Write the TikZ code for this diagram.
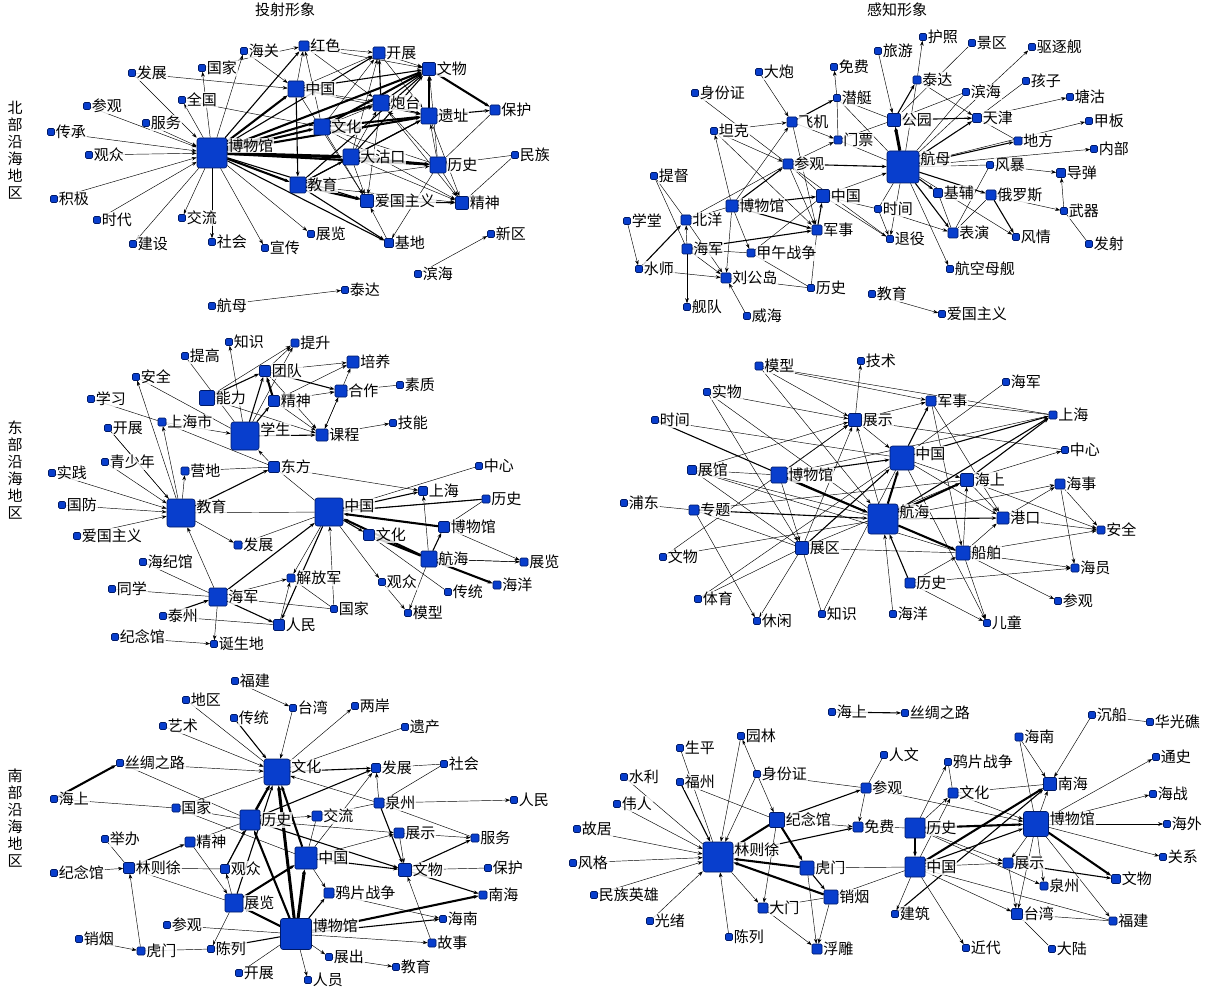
\documentclass[tikz,border=0pt]{standalone}
\usepackage{fontspec}
\newfontfamily\cjk{Noto Sans CJK SC}
\usetikzlibrary{arrows.meta}
\definecolor{sqf}{RGB}{8,62,205}
\definecolor{sqb}{RGB}{0,25,100}
\newcommand\lf{\cjk\fontsize{15}{16}\selectfont}
\pgfdeclarelayer{bg}
\pgfsetlayers{bg,main}
\tikzset{
 sq/.style={draw=sqb,fill=sqf,rounded corners=1.2pt,inner sep=0pt,line width=0.6pt},
 lbl/.style={font=\lf,inner sep=0.8pt,text=black,fill=white,fill opacity=0.8,text opacity=1},
 ln/.style={line width=0.45pt,draw=black},
 aw/.style={ln,-{Stealth[length=5pt,width=3.6pt]}},
 am/.style={aw,line width=1.1pt},
 ak/.style={aw,line width=2.1pt},
 side/.style={font=\cjk\fontsize{15}{17}\selectfont,align=center,inner sep=0pt},
 ttl/.style={font=\cjk\fontsize{15}{16}\selectfont,inner sep=0pt}
}
\newcommand\sqn[5]{\node[sq,minimum size=#4pt,label={[lbl]east:#5}] (#1) at (#2,#3) {};}
\newcommand\bgn[5]{\node[sq,rounded corners=2.5pt,minimum size=#4pt,label={[lbl,anchor=north west]north east:#5}] (#1) at (#2,#3) {};}
\begin{document}
\begin{tikzpicture}[x=1pt,y=-1pt]
\useasboundingbox (0,0) rectangle (1218,1000);
\node[ttl] (t1) at (285,10) {投射形象};
\node[ttl] (t2) at (897,10) {感知形象};
\node[side] (s1) at (15,150) {北\\部\\沿\\海\\地\\区};
\node[side] (s2) at (15,470) {东\\部\\沿\\海\\地\\区};
\node[side] (s3) at (15,818) {南\\部\\沿\\海\\地\\区};
% ---------- Panel A ----------
\bgn{a0}{212}{153}{30}{博物馆}
\sqn{aHG}{244}{51}{7}{海关}
\sqn{aGJ}{202}{68}{7}{国家}
\sqn{aFZ}{132}{73}{7}{发展}
\sqn{aQG}{182}{100}{7}{全国}
\sqn{aCG}{87}{106}{7}{参观}
\sqn{aFW}{146}{123}{7}{服务}
\sqn{aCC}{51}{132}{7}{传承}
\sqn{aGZ}{89}{155}{7}{观众}
\sqn{aJJ}{54}{199}{7}{积极}
\sqn{aSD}{97}{220}{7}{时代}
\sqn{aJL}{182}{218}{7}{交流}
\sqn{aJS}{133}{244}{7}{建设}
\sqn{aSH}{212}{242}{7}{社会}
\sqn{aXC}{265}{248}{7}{宣传}
\sqn{aZL}{311}{234}{7}{展览}
\sqn{aHM}{212}{306}{7}{航母}
\sqn{aTD}{345}{290}{7}{泰达}
\sqn{aBH}{418}{274}{7}{滨海}
\sqn{aXQ}{491}{234}{7}{新区}
\sqn{aHS}{304}{46}{10}{红色}
\sqn{aKZ}{379}{53}{12}{开展}
\sqn{aWW}{429}{69}{13}{文物}
\sqn{aZG}{296}{89}{16}{中国}
\sqn{aPT}{381}{103}{16}{炮台}
\sqn{aYZ}{429}{116}{16}{遗址}
\sqn{aBHu}{495}{110}{10}{保护}
\sqn{aWH}{322}{127}{16}{文化}
\sqn{aDGK}{351}{157}{16}{大沽口}
\sqn{aLS}{438}{165}{16}{历史}
\sqn{aMZ}{515}{155}{7}{民族}
\sqn{aJY}{298}{185}{16}{教育}
\sqn{aAG}{367}{201}{13}{爱国主义}
\sqn{aJSh}{462}{203}{13}{精神}
\sqn{aJD}{389}{243}{9}{基地}
% ---------- Panel B ----------
\bgn{b0}{903}{167}{32}{航母}
\sqn{bLY}{878}{51}{7}{旅游}
\sqn{bHZ}{923}{37}{7}{护照}
\sqn{bJQ}{972}{43}{7}{景区}
\sqn{bQZJ}{1032}{47}{7}{驱逐舰}
\sqn{bMF}{834}{67}{7}{免费}
\sqn{bDP}{759}{72}{7}{大炮}
\sqn{bTD}{917}{80}{8}{泰达}
\sqn{bHZi}{1026}{81}{7}{孩子}
\sqn{bSFZ}{695}{93}{7}{身份证}
\sqn{bQT}{837}{98}{7}{潜艇}
\sqn{bBH}{966}{92}{7}{滨海}
\sqn{bTG}{1070}{97}{7}{塘沽}
\sqn{bGY}{894}{120}{13}{公园}
\sqn{bTJ}{977}{118}{9}{天津}
\sqn{bJB}{1089}{121}{7}{甲板}
\sqn{bFJ}{792}{122}{10}{飞机}
\sqn{bTK}{714}{131}{7}{坦克}
\sqn{bMP}{838}{140}{8}{门票}
\sqn{bDF}{1018}{141}{8}{地方}
\sqn{bNB}{1094}{149}{7}{内部}
\sqn{bCG}{788}{164}{10}{参观}
\sqn{bFB}{990}{165}{7}{风暴}
\sqn{bDD}{1061}{173}{9}{导弹}
\sqn{bTDu}{654}{176}{7}{提督}
\sqn{bJF}{938}{193}{9}{基辅}
\sqn{bELS}{991}{195}{10}{俄罗斯}
\sqn{bZG}{823}{196}{13}{中国}
\sqn{bBWG}{732}{206}{12}{博物馆}
\sqn{bSJ}{878}{209}{7}{时间}
\sqn{bWQ}{1064}{211}{7}{武器}
\sqn{bXT}{627}{221}{7}{学堂}
\sqn{bBY}{686}{220}{10}{北洋}
\sqn{bJS}{817}{230}{10}{军事}
\sqn{bBY2}{953}{233}{10}{表演}
\sqn{bFQ}{1016}{237}{7}{风情}
\sqn{bTY}{890}{239}{7}{退役}
\sqn{bFS}{1089}{244}{7}{发射}
\sqn{bHJ}{687}{249}{10}{海军}
\sqn{bJW}{751}{253}{8}{甲午战争}
\sqn{bSS}{639}{269}{7}{水师}
\sqn{bHKMJ}{950}{269}{7}{航空母舰}
\sqn{bLGD}{726}{278}{10}{刘公岛}
\sqn{bLS}{811}{288}{7}{历史}
\sqn{bJY}{872}{294}{7}{教育}
\sqn{bAG}{942}{314}{7}{爱国主义}
\sqn{bJD}{687}{307}{7}{舰队}
\sqn{bWH}{747}{316}{7}{威海}
% ---------- Panel C ----------
\bgn{c0}{245}{436}{28}{学生}
\bgn{c1}{181}{513}{28}{教育}
\bgn{c2}{329}{512}{28}{中国}
\sqn{cZS}{229}{342}{7}{知识}
\sqn{cTS}{295}{343}{8}{提升}
\sqn{cTG}{185}{356}{7}{提高}
\sqn{cPY}{353}{362}{12}{培养}
\sqn{cTD}{265}{371}{11}{团队}
\sqn{cAQ}{136}{377}{7}{安全}
\sqn{cSZ}{400}{385}{7}{素质}
\sqn{cHZ}{341}{391}{12}{合作}
\sqn{cNL}{207}{398}{15}{能力}
\sqn{cJS}{274}{401}{11}{精神}
\sqn{cXX}{91}{399}{7}{学习}
\sqn{cSHS}{162}{422}{8}{上海市}
\sqn{cJN}{393}{423}{7}{技能}
\sqn{cKZ}{108}{428}{7}{开展}
\sqn{cKC}{322}{435}{12}{课程}
\sqn{cQSN}{105}{462}{7}{青少年}
\sqn{cZX}{479}{466}{7}{中心}
\sqn{cDF}{274}{467}{11}{东方}
\sqn{cYD}{185}{471}{8}{营地}
\sqn{cSJ}{52}{473}{7}{实践}
\sqn{cSH}{423}{491}{9}{上海}
\sqn{cLS}{486}{499}{8}{历史}
\sqn{cGF}{62}{505}{7}{国防}
\sqn{cBWG}{444}{527}{11}{博物馆}
\sqn{cWH}{369}{535}{11}{文化}
\sqn{cAG}{77}{536}{7}{爱国主义}
\sqn{cFZ}{238}{545}{8}{发展}
\sqn{cHH}{429}{559}{16}{航海}
\sqn{cZL}{524}{562}{8}{展览}
\sqn{cHJG}{143}{562}{7}{海纪馆}
\sqn{cJFJ}{291}{578}{8}{解放军}
\sqn{cGZ}{382}{582}{7}{观众}
\sqn{cHY}{497}{585}{8}{海洋}
\sqn{cTX}{112}{589}{7}{同学}
\sqn{cTX2}{448}{592}{7}{传统}
\sqn{cHJ}{218}{597}{18}{海军}
\sqn{cGJ}{334}{609}{7}{国家}
\sqn{cMX}{408}{613}{7}{模型}
\sqn{cTZ}{163}{616}{7}{泰州}
\sqn{cRM}{279}{625}{11}{人民}
\sqn{cJNG}{115}{637}{7}{纪念馆}
\sqn{cDSD}{214}{644}{7}{诞生地}
% ---------- Panel D ----------
\bgn{d0}{883}{519}{30}{航海}
\bgn{dZG}{902}{458}{24}{中国}
\sqn{dMX}{759}{366}{8}{模型}
\sqn{dJS}{861}{361}{7}{技术}
\sqn{dHJ}{1006}{382}{7}{海军}
\sqn{dSW}{707}{392}{7}{实物}
\sqn{dJSh}{931}{401}{10}{军事}
\sqn{dSH}{1053}{415}{8}{上海}
\sqn{dZS}{855}{420}{13}{展示}
\sqn{dSJ}{655}{420}{7}{时间}
\sqn{dZX}{1065}{450}{7}{中心}
\sqn{dZG2}{692}{470}{9}{展馆}
\sqn{dBWG}{779}{475}{16}{博物馆}
\sqn{dHS}{967}{480}{13}{海上}
\sqn{dHSh}{1060}{484}{10}{海事}
\sqn{dPD}{624}{503}{7}{浦东}
\sqn{dZT}{694}{510}{10}{专题}
\sqn{dGK}{1003}{518}{12}{港口}
\sqn{dAQ}{1101}{530}{8}{安全}
\sqn{dZQ}{802}{548}{13}{展区}
\sqn{dCB}{963}{553}{14}{船舶}
\sqn{dWW}{663}{557}{7}{文物}
\sqn{dHY}{1075}{568}{8}{海员}
\sqn{dLS}{910}{583}{10}{历史}
\sqn{dTY}{698}{599}{7}{体育}
\sqn{dCG}{1058}{601}{7}{参观}
\sqn{dZS2}{822}{614}{7}{知识}
\sqn{dHYa}{893}{614}{7}{海洋}
\sqn{dXX}{757}{621}{7}{休闲}
\sqn{dET}{987}{623}{7}{儿童}
% ---------- Panel E ----------
\bgn{e0}{296}{934}{31}{博物馆}
\bgn{eWH}{277}{772}{26}{文化}
\sqn{eLS}{250}{820}{20}{历史}
\sqn{eZG}{306}{858}{22}{中国}
\sqn{eFJ}{235}{681}{7}{福建}
\sqn{eTW}{293}{708}{7}{台湾}
\sqn{eDQ}{186}{700}{7}{地区}
\sqn{eLA}{355}{706}{7}{两岸}
\sqn{eCT}{234}{718}{7}{传统}
\sqn{eYC}{405}{727}{7}{遗产}
\sqn{eYS}{163}{726}{7}{艺术}
\sqn{eSC}{120}{763}{7}{丝绸之路}
\sqn{eSH}{444}{764}{7}{社会}
\sqn{eFZ}{376}{768}{9}{发展}
\sqn{eHS}{54}{799}{7}{海上}
\sqn{eRM}{514}{800}{7}{人民}
\sqn{eQZ}{379}{803}{10}{泉州}
\sqn{eGJ}{176}{808}{8}{国家}
\sqn{eJL}{317}{816}{10}{交流}
\sqn{eZS}{399}{833}{10}{展示}
\sqn{eFW}{475}{838}{8}{服务}
\sqn{eJB}{105}{839}{7}{举办}
\sqn{eJS}{190}{842}{10}{精神}
\sqn{eLZX}{129}{868}{11}{林则徐}
\sqn{eBH}{488}{868}{7}{保护}
\sqn{eGZ}{225}{869}{9}{观众}
\sqn{eWW}{405}{870}{13}{文物}
\sqn{eJNG}{54}{873}{7}{纪念馆}
\sqn{eYP}{329}{893}{10}{鸦片战争}
\sqn{eNH}{483}{895}{8}{南海}
\sqn{eZL}{234}{903}{18}{展览}
\sqn{eHN}{443}{919}{7}{海南}
\sqn{eCG}{167}{925}{7}{参观}
\sqn{eXY}{79}{939}{7}{销烟}
\sqn{eGS}{432}{943}{8}{故事}
\sqn{eCL}{211}{949}{7}{陈列}
\sqn{eHM}{141}{951}{8}{虎门}
\sqn{eZC}{329}{957}{7}{展出}
\sqn{eJY}{396}{967}{7}{教育}
\sqn{eKZ}{239}{973}{7}{开展}
\sqn{eRY}{308}{980}{7}{人员}
% ---------- Panel F ----------
\bgn{f0}{718}{857}{30}{林则徐}
\bgn{fBWG}{1036}{824}{25}{博物馆}
\sqn{fLS}{915}{828}{20}{历史}
\sqn{fZG}{915}{867}{20}{中国}
\sqn{fHS}{832}{712}{7}{海上}
\sqn{fSC}{905}{713}{7}{丝绸之路}
\sqn{fCC}{1092}{715}{7}{沉船}
\sqn{fHGJ}{1150}{722}{7}{华光礁}
\sqn{fYL}{741}{736}{7}{园林}
\sqn{fHN}{1019}{737}{8}{海南}
\sqn{fSP}{680}{748}{7}{生平}
\sqn{fRW}{884}{755}{7}{人文}
\sqn{fTS}{1156}{757}{7}{通史}
\sqn{fYP}{948}{762}{7}{鸦片战争}
\sqn{fSFZ}{757}{774}{7}{身份证}
\sqn{fSL}{624}{777}{7}{水利}
\sqn{fFZ}{680}{782}{7}{福州}
\sqn{fNH}{1050}{784}{13}{南海}
\sqn{fCG}{866}{788}{10}{参观}
\sqn{fWH}{953}{793}{10}{文化}
\sqn{fHZ}{1153}{794}{7}{海战}
\sqn{fWR}{617}{804}{7}{伟人}
\sqn{fJNG}{777}{820}{15}{纪念馆}
\sqn{fHW}{1167}{824}{7}{海外}
\sqn{fMF}{858}{827}{10}{免费}
\sqn{fGJ}{577}{829}{7}{故居}
\sqn{fGX}{1163}{857}{7}{关系}
\sqn{fFG}{573}{863}{7}{风格}
\sqn{fZS}{1008}{863}{10}{展示}
\sqn{fHM}{807}{868}{14}{虎门}
\sqn{fWW}{1116}{879}{9}{文物}
\sqn{fQZ}{1044}{886}{8}{泉州}
\sqn{fMZYX}{594}{895}{7}{民族英雄}
\sqn{fXY}{831}{897}{14}{销烟}
\sqn{fDM}{763}{908}{10}{大门}
\sqn{fJZ}{895}{914}{7}{建筑}
\sqn{fTW}{1017}{914}{11}{台湾}
\sqn{fGXu}{650}{921}{7}{光绪}
\sqn{fFJ}{1113}{921}{8}{福建}
\sqn{fCL}{729}{937}{7}{陈列}
\sqn{fJD}{966}{948}{7}{近代}
\sqn{fDL}{1052}{949}{7}{大陆}
\sqn{fFD}{817}{949}{10}{浮雕}
% ================= EDGES =================
\begin{pgfonlayer}{bg}
% Panel A
\foreach \p/\q in {a0/aHG,a0/aGJ,aFZ/a0,a0/aQG,aCG/a0,aFW/a0,aCC/a0,aGZ/a0,aJJ/a0,aSD/a0,a0/aJS,a0/aJL,a0/aSH,a0/aXC,a0/aZL,aHM/aTD,aBH/aXQ,aHG/aZG,aFZ/aZG,aQG/aWH,aGJ/aHS,
 aZG/aHS,aZG/aKZ,aZG/aPT,aZG/aYZ,aHS/aKZ,aHS/aWW,aHS/aPT,aKZ/aWW,aKZ/aYZ,aWH/aKZ,aWH/aPT,aWH/aHS,aDGK/aKZ,aDGK/aPT,aDGK/aAG,aDGK/aJSh,aLS/aYZ,aLS/aWW,aLS/aJSh,aLS/aPT,aLS/aWH,aJY/aJSh,aJY/aLS,aJD/aAG,aLS/aJD,aYZ/aJSh,aPT/aJSh,aWH/aJSh,aZG/aAG,aWH/aAG,aPT/aAG}
 \draw[aw] (\p) -- (\q);
\foreach \p/\q in {aLS/aMZ,aMZ/aJSh,aLS/aBHu} \draw[ln] (\p) -- (\q);
\foreach \p/\q in {a0/aHS,a0/aKZ,a0/aAG,a0/aJD,aZG/aWW,aPT/aKZ,aPT/aWW,aYZ/aWW,aDGK/aWW,aDGK/aYZ,aJY/aYZ,aJY/aWW,aJY/aJD,aAG/aJSh,aYZ/aBHu,aPT/aYZ,aZG/aJY,aJY/aDGK}
 \draw[am] (\p) -- (\q);
\foreach \p/\q in {a0/aZG,a0/aWW,a0/aPT,a0/aYZ,a0/aWH,a0/aLS,a0/aJY,aWH/aWW,aWH/aYZ,aWW/aBHu,aJY/aAG,aDGK/aLS}
 \draw[ak] (\p) -- (\q);
\draw[ak,line width=3.2pt] (a0) -- (aDGK);
% Panel B
\foreach \p/\q in {bLY/bGY,bTD/bHZ,bTD/bTJ,b0/bQZJ,bTJ/bTG,b0/bJB,b0/bNB,bFB/bDD,bELS/bWQ,bWQ/bDD,b0/bFQ,b0/bHKMJ,b0/bTY,bSJ/bTY,bSJ/bBY2,bJY/bAG,
 bQT/bMF,bDP/bFJ,bTK/bFJ,bTK/bCG,bCG/bMP,bFJ/bJS,bCG/bJS,bZG/b0,bZG/bTY,bXT/bSS,bHJ/bBY,bHJ/bJD,bHJ/bLGD,bSS/bLGD,bBY/bLGD,bBWG/bLGD,bBWG/bJW,bWH/bLGD,bBWG/bTK,bTK/bJS,bFJ/bMP,bBWG/bFJ}
 \draw[aw] (\p) -- (\q);
\foreach \p/\q in {bJQ/bGY,bBH/bGY,bBH/b0,bHZi/bTJ,b0/bFB,bFB/bBY2,bFS/bWQ,bJF/bBY2,bELS/bBY2,b0/bSJ,bTJ/bDF,bSFZ/bCG,bMP/bQT,bMP/b0,bQT/b0,bCG/bZG,bBY/bCG,bJW/bZG,bTDu/bHJ,bTDu/bBY,bLGD/bLS,bJW/bLS,bJS/bLS,bHJ/bJW,bZG/bSJ,bCG/bTY,b0/bTD,bQT/bGY,bMP/bGY,bBY/bBWG}
 \draw[ln] (\p) -- (\q);
\foreach \p/\q in {b0/bJF,b0/bELS,bELS/bFQ,b0/bBY2,b0/bDF,bFJ/bQT,bCG/b0,bBWG/bCG,bBWG/bZG,bBWG/bJS,bJS/bZG,bHJ/bJS,bSS/bBY,bGY/bTD,b0/bTJ,bGY/bTJ}
 \draw[am] (\p) -- (\q);
\draw[ak,line width=3pt] (b0) -- (bGY);
% Panel C
\foreach \p/\q in {c0/cZS,cNL/cTS,cTD/cTS,cTD/cPY,cJS/cPY,cJS/cHZ,cHZ/cPY,cHZ/cKC,cKC/cHZ,cKC/cJN,cNL/cKC,cTD/cKC,cJS/cKC,c1/cAQ,cSHS/c0,cKZ/c1,cQSN/c1,c1/cYD,c1/cSHS,cSJ/c1,cGF/c1,cAG/c1,c1/cFZ,cDF/c0,cDF/cSH,cHH/cSH,cHH/cZL,cBWG/cZL,c2/cGZ,cGZ/cMX,cHH/cMX,cHJ/c1,cHJ/cDSD,cHJ/cJFJ,cRM/cJFJ,cGJ/c2,cJNG/cDSD,c0/cTS,c2/cJFJ}
 \draw[aw] (\p) -- (\q);
\foreach \p/\q in {c0/cAQ,cXX/cSHS,cYD/cDF,cDF/c2,c2/cZX,c2/cLS,cLS/cBWG,cWH/cTX2,cGJ/cJFJ,cHJG/cHJ,cTX/cHJ,cTZ/cRM,cHJ/cGJ,c1/c2,cFZ/c2,cTG/c0,cHZ/cSZ,cSHS/cDF,cKZ/c1,cHH/cZL}
 \draw[ln] (\p) -- (\q);
\foreach \p/\q in {c0/cTD,c0/cJS,cNL/cTD,cTD/cHZ,c0/cKC,c1/cDF,c2/cSH,c2/cWH,cHJ/c2,cHJ/cRM,c2/cRM,cTZ/cHJ,cHH/cBWG,cLS/c2}
 \draw[am] (\p) -- (\q);
\foreach \p/\q in {cJS/cTD,cBWG/c2,cHH/c2,cHH/cHY,cHH/cWH}
 \draw[ak] (\p) -- (\q);
% Panel D
\foreach \p/\q in {dMX/dZS,dMX/d0,dMX/dJSh,dSW/dZS,dBWG/dZQ,dBWG/dZS,dZT/dXX,dZQ/dXX,dZQ/dZS,d0/dZS,dZS/dZG,dZS/dJSh,dZS/dJS,dHS/dZX,dZG/dHS,dHS/dGK,dZG/dGK,dHS/dAQ,dHSh/dAQ,dGK/dAQ,dGK/dHSh,dHSh/dHY,dCB/dHY,dCB/dAQ,dCB/dCG,dCB/dGK,dLS/dCB,dLS/dHY,dLS/dET,dCB/dET,dHYa/d0,dCB/dHS,dJSh/dGK,dJSh/dCB,d0/dHSh,dZG/dET,dZG2/dZS,dWW/dZS,dSW/dZQ}
 \draw[aw] (\p) -- (\q);
\foreach \p/\q in {dSW/d0,dSJ/dZG,dZG2/dBWG,dZG2/dZQ,dZG2/d0,dPD/dZT,dZT/dZQ,dWW/d0,dTY/dZQ,dJSh/dSH,dZS/dZX,dZS2/dZG,dHJ/dZG,dZQ/dCB,dZQ/dHS,dZT/dHS,dBWG/dSH,dZG2/dCB,dMX/dSH,dZS2/dZQ,dTY/dZG}
 \draw[ln] (\p) -- (\q);
\foreach \p/\q in {dSJ/d0,dBWG/dZG,dZT/d0,dZG/dJSh,dHS/dSH,d0/dGK,d0/dSH,dLS/d0,dZQ/dZG,dZG/dSH}
 \draw[am] (\p) -- (\q);
\foreach \p/\q in {d0/dZG,dBWG/d0,d0/dCB,d0/dHS}
 \draw[ak] (\p) -- (\q);
% Panel E
\foreach \p/\q in {eFJ/eTW,eTW/eWH,eYS/eWH,eSC/eWH,eWH/eLA,eQZ/eFZ,eLS/eJL,eZG/eZS,eZG/eFZ,eQZ/eRM,eZS/eFW,eZS/eWW,eYP/eHN,eZG/eYP,e0/eGS,eGS/eWW,e0/eZC,eZC/eJY,e0/eRY,eZL/eCL,eZL/eGZ,eGZ/eLS,eJS/eZL,eJNG/eLZX,eHM/eLZX,eXY/eHM,eLS/eZS,eQZ/eWH}
 \draw[aw] (\p) -- (\q);
\foreach \p/\q in {eDQ/eWH,eHS/eGJ,eGJ/eWH,eSC/eLS,eYC/eWH,eFZ/eSH,eQZ/eSH,eJL/eQZ,eQZ/eFW,eWW/eBH,eKZ/e0,eCG/e0,eJS/eLS,eHM/eCL,eJB/eLZX,eGJ/eLS,eGJ/eZG,eJL/eZG,eLZX/eZL,eLZX/eGZ}
 \draw[ln] (\p) -- (\q);
\foreach \p/\q in {eCT/eWH,eWH/eFZ,eLS/eFZ,eZG/eWW,eQZ/eWW,eWW/eFW,eWW/eNH,e0/eHN,e0/eYP,eZL/eWH,eLZX/eJS,eLS/eWW,eGZ/eWH,e0/eCL}
 \draw[am] (\p) -- (\q);
\foreach \p/\q in {eHS/eSC,eLS/eWH,eZG/eWH,e0/eNH,eZL/eZG,e0/eLS,e0/eZL}
 \draw[ak] (\p) -- (\q);
\draw[ak,line width=3pt] (e0) -- (eWH);
\draw[ak,line width=3pt] (e0) -- (eZG);
% Panel F
\foreach \p/\q in {fWR/f0,fGJ/f0,fFG/f0,fMZYX/f0,fGXu/f0,fCL/f0,fYL/f0,fSFZ/fYL,fSFZ/f0,fSFZ/fJNG,fJNG/fMF,fJNG/fDM,f0/fDM,fDM/fFD,fHM/fFD,fXY/fFD,fCG/fMF,fLS/fWH,fZG/fWH,fZG/fJZ,fZG/fJD,fZG/fTW,fZG/fZS,fBWG/fNH,fHN/fNH,fCC/fNH,fBWG/fTS,fBWG/fHZ,fBWG/fHW,fBWG/fGX,fBWG/fZS,fBWG/fQZ,fBWG/fTW,fBWG/fFJ,fLS/fZS,fLS/fQZ,fLS/fYP,fCG/fBWG,fZS/fTW,fWH/fBWG}
 \draw[aw] (\p) -- (\q);
\foreach \p/\q in {fSP/f0,fSL/f0,fSFZ/fCG,fXY/fDM,fRW/fCG,fMF/fLS,fHN/fBWG,fCC/fHGJ,fTW/fFJ,fTW/fDL,fZG/fFJ,fHM/fZG,fXY/fZG,fWH/fNH,fYP/fWH,fFZ/fJNG}
 \draw[ln] (\p) -- (\q);
\foreach \p/\q in {fFZ/f0,fHM/fXY,fLS/fZG,fZG/fBWG,fJZ/fNH,fZS/fWW,f0/fMF,fJNG/fCG,fHS/fSC}
 \draw[am] (\p) -- (\q);
\foreach \p/\q in {fJNG/f0,fJNG/fHM,fHM/f0,fXY/f0,fLS/fBWG,fZG/fNH,fBWG/fWW}
 \draw[ak] (\p) -- (\q);
\end{pgfonlayer}
\end{tikzpicture}
\end{document}
